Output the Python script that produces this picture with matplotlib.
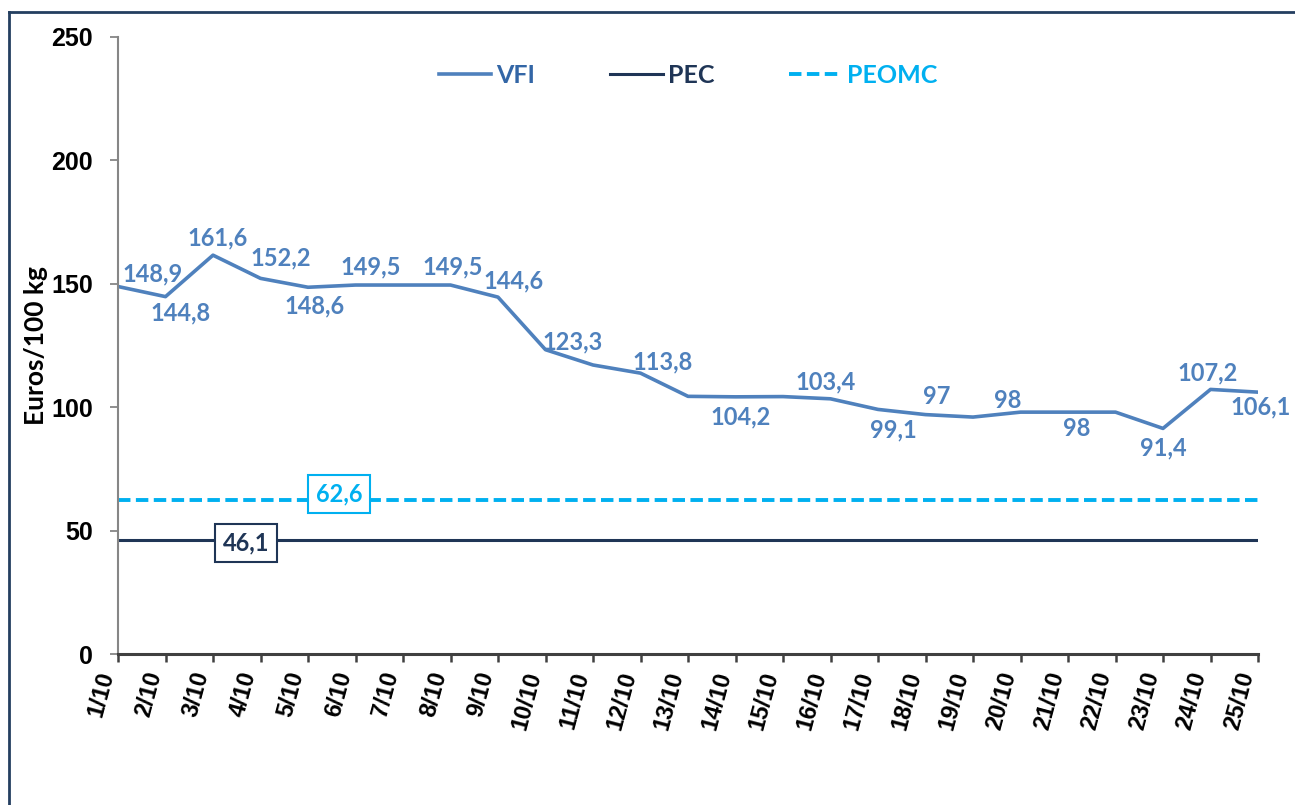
import matplotlib
matplotlib.use("Agg")
import matplotlib.pyplot as plt
from matplotlib.lines import Line2D

# data
days = ["1/10", "2/10", "3/10", "4/10", "5/10", "6/10", "7/10", "8/10", "9/10",
        "10/10", "11/10", "12/10", "13/10", "14/10", "15/10", "16/10", "17/10",
        "18/10", "19/10", "20/10", "21/10", "22/10", "23/10", "24/10", "25/10"]
vfi = [148.9, 144.8, 161.6, 152.2, 148.6, 149.5, 149.5, 149.5, 144.6, 123.3,
       117.1, 113.8, 104.4, 104.2, 104.3, 103.4, 99.1, 97.0, 96.0, 98.0,
       98.0, 98.0, 91.4, 107.2, 106.1]
pec_value = 46.1
peomc_value = 62.6
pec = [pec_value] * len(days)
peomc = [peomc_value] * len(days)

# which VFI points carry a label, and where the label sits (pixel offsets)
labelled = [0, 1, 2, 3, 4, 5, 7, 8, 9, 11, 13, 15, 16, 17, 19, 20, 22, 23, 24]
label_offsets = [(35, 13), (15, -16), (5, 17), (20, 20), (7, -19), (15, 18),
                 (2, 18), (16, 16), (27, 8), (22, 11), (5, -20), (-5, 17),
                 (15, -21), (11, 18), (-13, 12), (9, -16), (0, -19), (-3, 17),
                 (3, -15)]

c_vfi = "#4F81BD"
c_pec = "#1F3556"
c_peomc = "#00B0F0"

lab_font = ["Lato", "DejaVu Sans"]
wide = ["Liberation Sans", "DejaVu Sans"]

fig = plt.figure(figsize=(12.95, 8.05), dpi=100)
ax = fig.add_axes([118 / 1295, 1 - 654 / 805, 1140 / 1295, 617 / 805])

x = list(range(len(days)))
ax.plot(x, vfi, color=c_vfi, lw=2.6, label="VFI", solid_joinstyle="round")
ax.plot(x, pec, color=c_pec, lw=2.2, label="PEC")
ax.plot(x, peomc, color=c_peomc, lw=2.8, dashes=(3.2, 1.4), label="PEOMC")

for i, (dx, dy) in zip(labelled, label_offsets):
    txt = f"{vfi[i]:g}".replace(".", ",")
    ax.annotate(txt, (i, vfi[i]), xytext=(dx, dy), textcoords="offset pixels",
                ha="center", va="center", color=c_vfi, fontsize=17,
                fontweight="bold", family=lab_font)

# boxed labels on the constant lines
ax.text(2.7, pec_value - 1.0, f"{pec_value:g}".replace(".", ","), ha="center", va="center",
        color=c_pec, fontsize=17, fontweight="bold", family=lab_font,
        bbox=dict(boxstyle="square,pad=0.32", fc="white", ec=c_pec, lw=1.5))
ax.text(4.65, peomc_value + 2.2, f"{peomc_value:g}".replace(".", ","), ha="center", va="center",
        color=c_peomc, fontsize=17, fontweight="bold", family=lab_font,
        bbox=dict(boxstyle="square,pad=0.32", fc="white", ec=c_peomc, lw=1.5))

ax.set_xlim(0, len(days) - 1)
ax.set_ylim(0, 250)
ax.set_yticks([0, 50, 100, 150, 200, 250])
ax.set_xticks(x)
ax.set_xticklabels(days, rotation=75, ha="right", va="top",
                   fontsize=17, fontweight="bold", family=wide)
for lab in ax.get_yticklabels():
    lab.set_fontsize(18)
    lab.set_fontweight("bold")
    lab.set_family(wide)

ax.tick_params(axis="y", direction="out", length=6, width=1.3, color="#868686", pad=12)
ax.tick_params(axis="x", direction="out", length=6, width=1.8, color="#404040", pad=5)

for side in ["top", "right"]:
    ax.spines[side].set_visible(False)
ax.spines["left"].set_color("#868686")
ax.spines["left"].set_linewidth(1.5)
ax.spines["bottom"].set_color("#404040")
ax.spines["bottom"].set_linewidth(2.2)

ax.set_ylabel("Euros/100 kg", fontsize=19, fontweight="bold", family=lab_font, labelpad=2)

leg = ax.legend(loc="center", bbox_to_anchor=(0.5, 0.938), ncol=3, frameon=False,
                handlelength=2.1, handletextpad=0.2, columnspacing=3.0,
                prop=dict(family=lab_font, weight="bold", size=18),
                labelcolor=["#3366A6", c_pec, c_peomc])

# outer frame (top and left edges visible)
fig.add_artist(Line2D([9 / 1295, 9 / 1295], [0, 1 - 12 / 805], transform=fig.transFigure,
                      color="#243F60", lw=2))
fig.add_artist(Line2D([9 / 1295, 1], [1 - 12 / 805, 1 - 12 / 805], transform=fig.transFigure,
                      color="#243F60", lw=2))

fig.savefig("out.png", dpi=100, facecolor="white")
